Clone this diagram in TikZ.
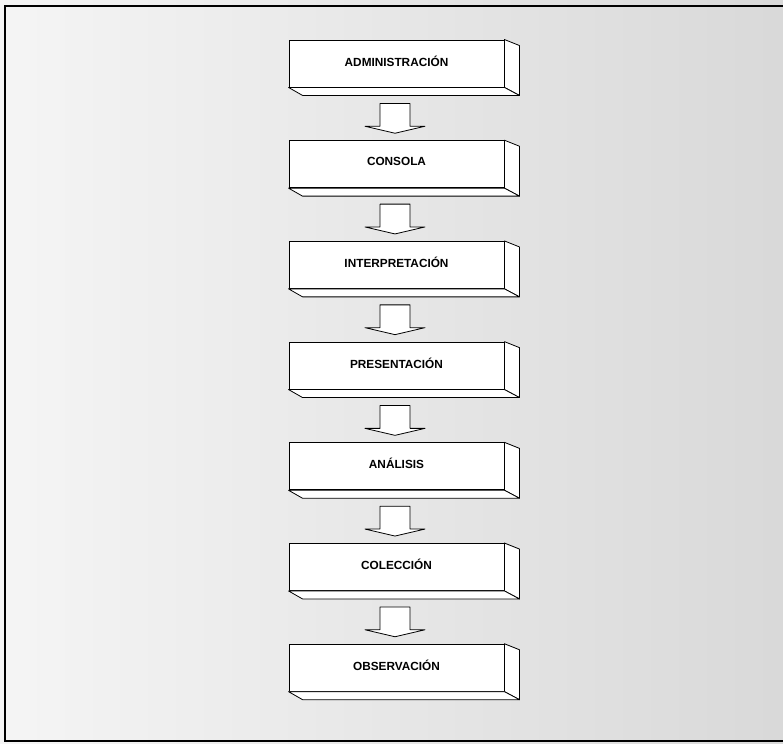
\documentclass[tikz,border=0pt]{standalone}
\usepackage{fontspec}
\setmainfont{Liberation Sans}
\usetikzlibrary{calc}
\tikzset{
  stagebox/.style={draw=black, line width=0.9pt, fill=white, minimum width=215pt, minimum height=47pt, inner sep=0pt, font=\bfseries\fontsize{11.8}{13}\selectfont},
  stagelabel/.style={font=\bfseries\fontsize{11.8}{13}\selectfont, inner sep=0pt, anchor=center},
  face/.style={draw=black, line width=0.8pt, fill=white, line join=round},
  blockarrow/.style={draw=black, line width=0.8pt, fill=white, line join=round},
  frameline/.style={draw=black, line width=1.3pt}
}
\begin{document}
\begin{tikzpicture}[x=1pt, y=-1pt]
\useasboundingbox (0,0) rectangle (783,743);
\shade[left color=gray!8, right color=gray!30] (0,0) rectangle (783,743);
\draw[frameline] (783,6) -- (5,6) -- (5,741) -- (783,741);
\foreach \name/\lab/\i in {a/ADMINISTRACIÓN/0, b/CONSOLA/1, c/INTERPRETACIÓN/2, d/PRESENTACIÓN/3, e/ANÁLISIS/4, f/COLECCIÓN/5, g/OBSERVACIÓN/6}{
  \node[stagebox] (\name) at (396.5, {63.5+100.7*\i}) {};
  \node[stagelabel] (\name l) at ($(\name.center)+(0,-2.5)$) {\lab};
  \draw[face] (\name.north east) -- ++(15,6) -- ++(0,48) -- ($(\name.south east)+(15,8)$) -- (\name.south east) -- cycle;
  \draw[face] (\name.south west) -- ($(\name.south west)+(14,8)$) -- ($(\name.south east)+(15,8)$) -- (\name.south east) -- cycle;
}
\foreach \u/\v in {a/b, b/c, c/d, d/e, e/f, f/g}{
  \coordinate (t\u) at ($(\u.south)+(-1.5,16)$);
  \coordinate (h\u) at ($(\v.north)+(-1.5,-7)$);
  \draw[blockarrow] ($(t\u)+(-15,0)$) -- ($(t\u)+(15,0)$) -- ($(h\u)+(15,-7)$) -- ($(h\u)+(30,-7)$) -- (h\u) -- ($(h\u)+(-30,-7)$) -- ($(h\u)+(-15,-7)$) -- cycle;
}
\end{tikzpicture}
\end{document}
